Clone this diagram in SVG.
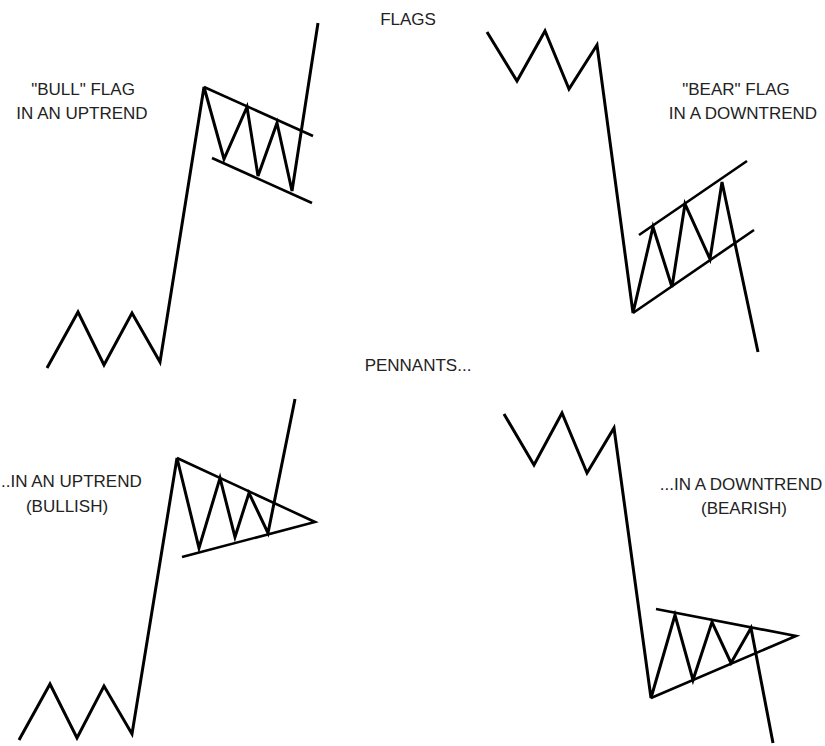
<svg xmlns="http://www.w3.org/2000/svg" width="825" height="746" viewBox="0 0 825 746">
<style>
.ln{fill:none;stroke:#000;stroke-width:3;stroke-linejoin:miter;stroke-linecap:butt}
.ch{fill:none;stroke:#000;stroke-width:2.6;stroke-linecap:butt}
.t{font-family:"Liberation Sans",Arial,sans-serif;font-size:17px;fill:#222;text-anchor:middle}
</style>
<rect width="825" height="746" fill="#fff"/>
<text class="t" x="408" y="25">FLAGS</text>
<text class="t" x="418" y="371">PENNANTS...</text>
<g id="bull-flag">
<polyline class="ln" points="47,368 78,312 104,365 132,313 160,362 204,87 224,159 247,107 258,176 277,123 292,191 318,23"/>
<line class="ch" x1="204" y1="87" x2="313" y2="136"/>
<line class="ch" x1="212" y1="158" x2="312" y2="203"/>
<text class="t" x="83" y="95">"BULL" FLAG</text>
<text class="t" x="82" y="119">IN AN UPTREND</text>
</g>
<g id="bear-flag">
<polyline class="ln" points="487,32 517,81 545,31 569,89 597,45 633,313 653,227 672,287 685,204 710,259 722,182 758,352"/>
<line class="ch" x1="639" y1="235" x2="747" y2="161"/>
<line class="ch" x1="633" y1="313" x2="754" y2="230"/>
<text class="t" x="736" y="95">"BEAR" FLAG</text>
<text class="t" x="743" y="119">IN A DOWNTREND</text>
</g>
<g id="bull-pennant">
<polyline class="ln" points="19,740 50,684 77,738 104,686 132,734 177,458 199,548 220,478 235,537 249,493 268,533 295,399"/>
<polyline class="ch" points="177,458 315,522 182,557"/>
<text class="t" x="1" y="487" style="text-anchor:start">..IN AN UPTREND</text>
<text class="t" x="67" y="512">(BULLISH)</text>
</g>
<g id="bear-pennant">
<polyline class="ln" points="504,414 534,465 562,413 587,473 614,428 651,698 675,615 693,680 712,622 731,663 751,628 773,743"/>
<polyline class="ch" points="656,609 796,636 651,698"/>
<text class="t" x="741" y="490">...IN A DOWNTREND</text>
<text class="t" x="744" y="514">(BEARISH)</text>
</g>
</svg>
